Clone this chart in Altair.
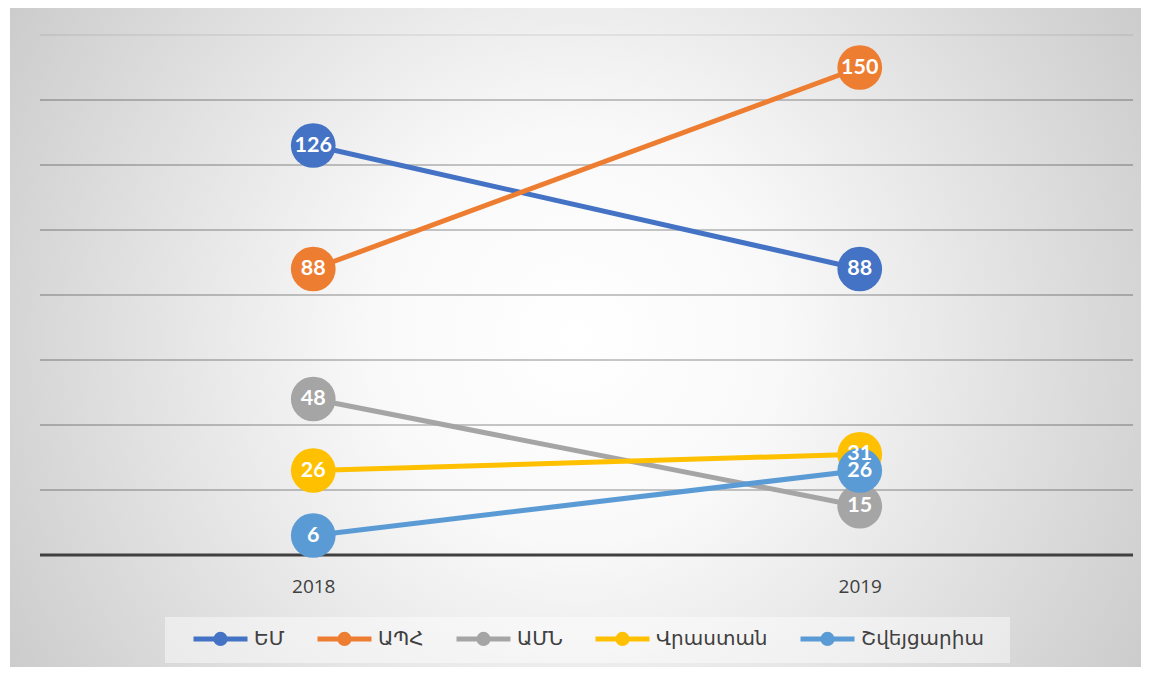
import altair as alt
import pandas as pd

years = ["2018", "2019"]
series = ["ԵՄ", "ԱՊՀ", "ԱՄՆ", "Վրաստան", "Շվեյցարիա"]
colors = ["#4472C4", "#ED7D31", "#A5A5A5", "#FFC000", "#5B9BD5"]
v_em = [126, 88]
v_aph = [88, 150]
v_amn = [48, 15]
v_vrastan = [26, 31]
v_shveyts = [6, 26]
grid_values = [20, 40, 60, 80, 100, 120, 140]
top_grid = [160]

vals = [v_em, v_aph, v_amn, v_vrastan, v_shveyts]
rows = []
for i, (s, vv) in enumerate(zip(series, vals)):
    for y, v in zip(years, vv):
        rows.append({"year": y, "series": s, "value": v, "order": i})
df = pd.DataFrame(rows)

W, H = 1093, 520

xs = alt.Scale(type="point", padding=0.5)
ys = alt.Scale(domain=[0, 160], nice=False)

x_enc = alt.X("year:N", scale=xs,
              axis=alt.Axis(title=None, labelAngle=0, labelFontSize=19,
                            labelColor="#404040", labelFont="Open Sans",
                            labelPadding=22, ticks=False, domain=False,
                            grid=False, zindex=1))
y_enc = alt.Y("value:Q", scale=ys, axis=None)

bg = alt.Chart(pd.DataFrame({"a": [0]})).mark_rect(
    fill=alt.RadialGradient(
        gradient="radial", x1=0.5, y1=0.5, r1=0, x2=0.5, y2=0.5, r2=0.72,
        stops=[alt.GradientStop(offset=0, color="#ffffff"),
               alt.GradientStop(offset=0.25, color="#f9f9f9"),
               alt.GradientStop(offset=1, color="#bcbcbc")])
).encode(x=alt.value(-30), x2=alt.value(W + 8), y=alt.value(-27), y2=alt.value(H + 112))

legbox = alt.Chart(pd.DataFrame({"a": [0]})).mark_rect(
    fill="#ffffff", opacity=0.45
).encode(x=alt.value(125), x2=alt.value(970), y=alt.value(582), y2=alt.value(628))

grid = alt.Chart(pd.DataFrame({"g": grid_values})).mark_rule(
    color="#000000", opacity=0.22, strokeWidth=2
).encode(y=alt.Y("g:Q", scale=ys, axis=None))

grid_top = alt.Chart(pd.DataFrame({"g": top_grid})).mark_rule(
    color="#000000", opacity=0.06, strokeWidth=2
).encode(y=alt.Y("g:Q", scale=ys, axis=None))

base = alt.Chart(pd.DataFrame({"g": [0]})).mark_rule(
    color="#404040", strokeWidth=3
).encode(y=alt.Y("g:Q", scale=ys, axis=None))

color_scale = alt.Scale(domain=series, range=colors)

sym = ("M-1,0H1 M0.17,0A0.17,0.17 0 1,1 -0.17,0A0.17,0.17 0 1,1 0.17,0 "
       "M0.06,0A0.06,0.06 0 1,1 -0.06,0A0.06,0.06 0 1,1 0.06,0")

lines = alt.Chart(df).mark_line(strokeWidth=5).encode(
    x=x_enc, y=y_enc,
    color=alt.Color("series:N", scale=color_scale, sort=series,
                    legend=alt.Legend(title=None, orient="none", legendX=151, legendY=574,
                                      direction="horizontal", columns=5,
                                      symbolType=sym, symbolSize=2916,
                                      symbolStrokeWidth=5,
                                      labelFontSize=20, labelFont="DejaVu Sans",
                                      labelColor="#404040", labelOffset=4,
                                      columnPadding=22, labelLimit=300)),
    detail="series:N",
    order="order:Q",
)

points = alt.Chart(df).mark_circle(size=2000, opacity=1).encode(
    x=alt.X("year:N", scale=xs),
    y=alt.Y("value:Q", scale=ys),
    color=alt.Color("series:N", scale=color_scale, legend=None),
    order="order:Q",
)

labels = alt.Chart(df).mark_text(color="white", fontSize=21.5, fontWeight="bold",
                                 font="Lato", baseline="middle", align="center").encode(
    x=alt.X("year:N", scale=xs),
    y=alt.Y("value:Q", scale=ys),
    text="value:Q",
)

chart = alt.layer(bg, legbox, grid, grid_top, base, lines, points, labels).resolve_scale(
    color="independent"
).properties(
    width=W, height=H,
    autosize=alt.AutoSizeParams(type="none"),
    padding={"left": 32, "top": 27, "right": 8, "bottom": 112},
).configure_view(stroke=None)

chart.save("out.html", embed_options={"renderer": "svg", "actions": False})
